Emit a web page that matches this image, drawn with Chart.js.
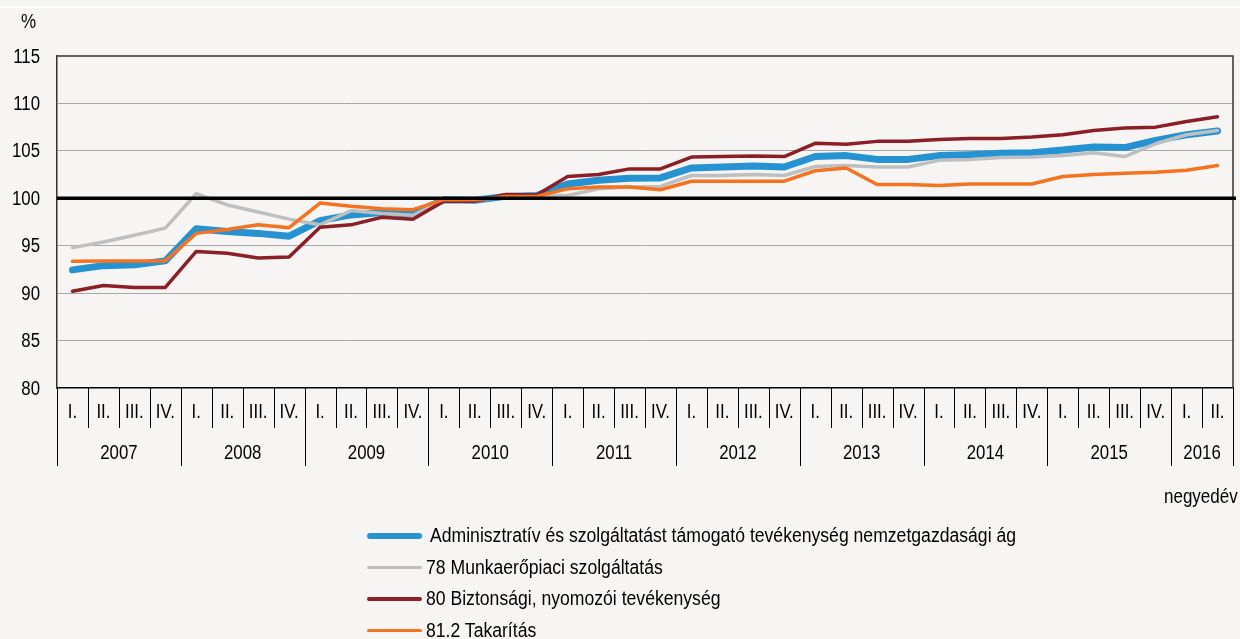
<!DOCTYPE html>
<html><head><meta charset="utf-8">
<script src="https://cdn.jsdelivr.net/npm/chart.js@4"></script>
<style>
html,body{margin:0;padding:0;background:#f6f5f3;}
#wrap{position:relative;width:1240px;height:639px;background:#f6f5f3;overflow:hidden;}
#band{position:absolute;left:0;top:6px;width:1240px;height:2px;background:#ffffff;}
canvas{position:absolute;left:0;top:0;}
.nar{font-family:"Liberation Sans",Arial,sans-serif;font-size:20px;color:#000;display:inline-block;transform:scaleX(0.85);white-space:nowrap;}
#pct{position:absolute;left:21px;top:10px;transform-origin:left center;}
#unit{position:absolute;left:1164px;top:485px;transform-origin:left center;}
#legend{position:absolute;left:367px;top:520px;}
.row{height:31.5px;display:flex;align-items:center;white-space:nowrap;}
.sw{width:55px;flex:none;}
.lt{font-family:"Liberation Sans",Arial,sans-serif;font-size:20px;color:#000;display:inline-block;transform:scaleX(0.88);transform-origin:left center;}
</style></head>
<body><div id="wrap"><div id="band"></div>
<canvas id="c" width="1240" height="639"></canvas>
<div id="pct" class="nar">%</div><div id="unit" class="nar">negyedév</div>
<div id="legend"></div></div>
<script>
const quarterLabels = ['I.','II.','III.','IV.','I.','II.','III.','IV.','I.','II.','III.','IV.','I.','II.','III.','IV.','I.','II.','III.','IV.','I.','II.','III.','IV.','I.','II.','III.','IV.','I.','II.','III.','IV.','I.','II.','III.','IV.','I.','II.'];
const yearLabels = ['2007','2007','2007','2007','2008','2008','2008','2008','2009','2009','2009','2009','2010','2010','2010','2010','2011','2011','2011','2011','2012','2012','2012','2012','2013','2013','2013','2013','2014','2014','2014','2014','2015','2015','2015','2015','2016','2016'];
const yTicks = [80,85,90,95,100,105,110,115];
const seriesNames = ['Adminisztratív és szolgáltatást támogató tevékenység nemzetgazdasági ág','78 Munkaerőpiaci szolgáltatás','80 Biztonsági, nyomozói tevékenység','81.2 Takarítás'];
const adminValues = [92.45,92.9,93.0,93.4,96.8,96.5,96.3,96.0,97.65,98.25,98.5,98.35,99.85,99.8,100.2,100.3,101.5,101.9,102.1,102.15,103.2,103.3,103.4,103.3,104.4,104.5,104.1,104.1,104.5,104.6,104.75,104.8,105.1,105.4,105.35,106.1,106.7,107.1];
const munkaValues = [94.8,95.4,96.1,96.85,100.5,99.3,98.55,97.8,97.2,98.7,98.4,98.2,99.8,99.8,100.2,100.3,100.3,101.0,101.2,101.25,102.4,102.4,102.5,102.4,103.35,103.45,103.3,103.3,104.0,104.1,104.3,104.35,104.5,104.8,104.4,105.75,106.7,107.15];
const biztValues = [90.2,90.8,90.6,90.6,94.4,94.2,93.7,93.8,96.95,97.2,98.0,97.8,99.7,99.7,100.4,100.35,102.3,102.5,103.1,103.1,104.35,104.4,104.45,104.4,105.8,105.7,106.0,106.0,106.2,106.3,106.3,106.45,106.7,107.15,107.4,107.5,108.1,108.6];
const takarValues = [93.35,93.4,93.4,93.4,96.3,96.7,97.2,96.9,99.5,99.15,98.9,98.8,99.85,99.85,100.2,100.2,101.0,101.2,101.2,100.9,101.8,101.8,101.8,101.8,102.9,103.2,101.45,101.45,101.35,101.5,101.5,101.5,102.3,102.5,102.65,102.75,102.95,103.45];
const colors = ['#2592d2','#bdbfc1','#8c1f25','#f47321'];
const widths = [7,3.5,3.5,3.5];

const FONT = '"Liberation Sans",Arial,sans-serif';
const SX = 0.84;

function narrowText(ctx, text, x, y, align){
  ctx.save();
  ctx.translate(x, y);
  ctx.scale(SX, 1);
  ctx.font = '20px ' + FONT;
  ctx.textAlign = align; ctx.textBaseline = 'middle'; ctx.fillStyle = '#000';
  ctx.fillText(text, 0, 0);
  ctx.restore();
}

const frame = {
  id:'frame',
  afterDatasetsDraw(chart){
    const {ctx, chartArea:a, scales:{x,y}} = chart;
    ctx.save();
    ctx.strokeStyle='#333'; ctx.lineWidth=1.5;
    ctx.beginPath(); ctx.moveTo(a.left,a.top); ctx.lineTo(a.right,a.top); ctx.lineTo(a.right,a.bottom); ctx.stroke();
    const y100 = y.getPixelForValue(100);
    ctx.strokeStyle='#000'; ctx.lineWidth=3.5;
    ctx.beginPath(); ctx.moveTo(a.left,y100); ctx.lineTo(a.right+3,y100); ctx.stroke();
    ctx.restore();
  },
  afterDraw(chart){
    const {ctx, chartArea:a, scales:{x,y}} = chart;
    y.ticks.forEach(t => narrowText(ctx, String(t.value), 40, y.getPixelForValue(t.value)+1, 'right'));
    ctx.save();
    ctx.strokeStyle='#000'; ctx.lineWidth=1;
    const n = quarterLabels.length;
    const bound = i => i===0 ? a.left : (i===n ? a.right : (x.getPixelForValue(i-1)+x.getPixelForValue(i))/2);
    for(let i=0;i<=n;i++){
      const bx = Math.round(bound(i))+0.5;
      const isYear = i===0 || i===n || yearLabels[i]!==yearLabels[i-1];
      ctx.beginPath(); ctx.moveTo(bx,a.bottom); ctx.lineTo(bx, isYear?466:428); ctx.stroke();
    }
    ctx.restore();
    for(let i=0;i<n;i++) narrowText(ctx, quarterLabels[i], x.getPixelForValue(i), 412, 'center');
    let s=0;
    for(let i=1;i<=n;i++){
      if(i===n || yearLabels[i]!==yearLabels[s]){
        narrowText(ctx, yearLabels[s], (bound(s)+bound(i))/2, 453, 'center');
        s=i;
      }
    }
  }
};

const allValues=[adminValues,munkaValues,biztValues,takarValues];
new Chart(document.getElementById('c'),{
  type:'line',
  data:{labels:quarterLabels.map((q,i)=>yearLabels[i]+' '+q),
    datasets:allValues.map((v,i)=>({label:seriesNames[i],data:v,borderColor:colors[i],backgroundColor:colors[i],borderWidth:widths[i],pointRadius:0,tension:0,borderCapStyle:'round',borderJoinStyle:'round',order:4-i}))},
  options:{responsive:false,animation:false,devicePixelRatio:1,
    layout:{padding:{left:0,right:7,top:56,bottom:0}},
    plugins:{legend:{display:false},tooltip:{enabled:false}},
    scales:{
      x:{offset:true,ticks:{display:false},grid:{display:false,offset:true},border:{display:true,color:'#000',width:1.5},
         afterFit:s=>{s.height=251;}},
      y:{min:80,max:115,afterBuildTicks:s=>{s.ticks=yTicks.map(v=>({value:v}));},
         ticks:{display:false},
         grid:{drawTicks:false,lineWidth:1,color:c=>([80,100,115].includes(c.tick.value)?'rgba(0,0,0,0)':'#a8a8a8')},
         border:{display:true,color:'#333',width:1.5},
         afterFit:s=>{s.width=57;}}
    }},
  plugins:[frame]
});

const lg=document.getElementById('legend');
seriesNames.forEach((n,i)=>{
  const r=document.createElement('div'); r.className='row';
  const sw=document.createElement('div'); sw.className='sw';
  sw.style.height=(i===0?6:3.5)+'px'; sw.style.background=colors[i]; sw.style.borderRadius='3px';
  sw.style.marginRight=(i===0?'8px':'4px');
  const t=document.createElement('span'); t.className='lt'; t.textContent=n;
  r.appendChild(sw); r.appendChild(t); lg.appendChild(r);
});
</script></body></html>
